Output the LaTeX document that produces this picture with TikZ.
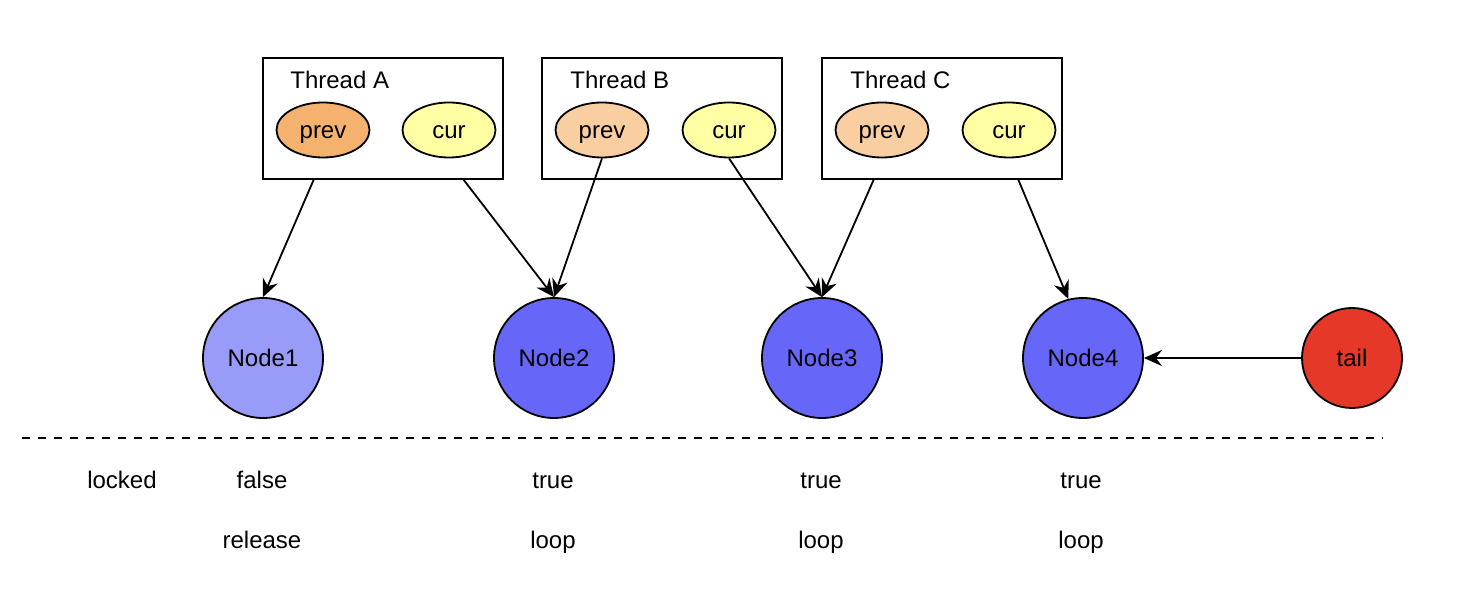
\documentclass[tikz,border=0pt]{standalone}
\usepackage{fontspec}
\setmainfont{Liberation Sans}
\usetikzlibrary{shapes.geometric,arrows.meta}
\definecolor{prevA}{HTML}{F5B26E}
\definecolor{prevB}{HTML}{F9CFA2}
\definecolor{curC}{HTML}{FFFFA3}
\definecolor{nodeL}{HTML}{999BF9}
\definecolor{nodeD}{HTML}{6667F8}
\definecolor{tailC}{HTML}{E63828}
\tikzset{
  txt/.style={font=\fontsize{12pt}{14pt}\selectfont, text height=10.86pt, text depth=2.54pt},
  thr/.style={draw, line width=1pt, minimum width=120pt, minimum height=60.5pt, inner sep=0pt},
  ell/.style={draw, ellipse, line width=0.9pt, minimum width=46.5pt, minimum height=27.5pt, inner sep=0pt, txt},
  lnode/.style={draw, circle, line width=0.9pt, minimum size=60pt, inner sep=0pt, txt},
  lab/.style={inner sep=0pt, txt},
  arr/.style={line width=0.9pt, -{Stealth[length=9pt,width=8pt,inset=3pt]}}
}
\begin{document}
\begin{tikzpicture}[x=0.5pt,y=-0.5pt]
\useasboundingbox (0,0) rectangle (1470,592);
% thread boxes
\node[thr] (ta) at (383,118.5) {};
\node[thr] (tb) at (662,118.5) {};
\node[thr] (tc) at (942,118.5) {};
\node[lab, anchor=west] (tla) at (290,80) {Thread A};
\node[lab, anchor=west] (tlb) at (570,80) {Thread B};
\node[lab, anchor=west] (tlc) at (850,80) {Thread C};
\node[ell, fill=prevA] (pa) at (323,130) {prev};
\node[ell, fill=curC] (ca) at (449,130) {cur};
\node[ell, fill=prevB] (pb) at (602,130) {prev};
\node[ell, fill=curC] (cb) at (729,130) {cur};
\node[ell, fill=prevB] (pc) at (882,130) {prev};
\node[ell, fill=curC] (cc) at (1009,130) {cur};
% list nodes
\node[lnode, fill=nodeL] (n1) at (263,358) {Node1};
\node[lnode, fill=nodeD] (n2) at (554,358) {Node2};
\node[lnode, fill=nodeD] (n3) at (822,358) {Node3};
\node[lnode, fill=nodeD] (n4) at (1083,358) {Node4};
\node[lnode, fill=tailC, minimum size=50pt] (tail) at (1352,358) {tail};
% start coordinates on box bottoms
\coordinate (sa1) at (314,179);
\coordinate (sa2) at (463,179);
\coordinate (sc1) at (874,179);
\coordinate (sc2) at (1018,179);
\draw[arr] (sa1) -- (n1.north);
\draw[arr] (sa2) -- (n2.north);
\draw[arr] (pb.south) -- (n2.north);
\draw[arr] (cb.south) -- (n3.north);
\draw[arr] (sc1) -- (n3.north);
\draw[arr] (sc2) -- (n4.104);
\draw[arr] (tail.west) -- (n4.east);
% dashed separator
\coordinate (d1) at (22,438);
\coordinate (d2) at (1383,438);
\draw[line width=0.8pt, dash pattern=on 4pt off 4pt] (d1) -- (d2);
% labels
\node[lab] (lk) at (122,480) {locked};
\node[lab] (f1) at (262,480) {false};
\node[lab] (r1) at (262,540) {release};
\node[lab] (t2) at (553,480) {true};
\node[lab] (l2) at (553,540) {loop};
\node[lab] (t3) at (821,480) {true};
\node[lab] (l3) at (821,540) {loop};
\node[lab] (t4) at (1081,480) {true};
\node[lab] (l4) at (1081,540) {loop};
\end{tikzpicture}
\end{document}
